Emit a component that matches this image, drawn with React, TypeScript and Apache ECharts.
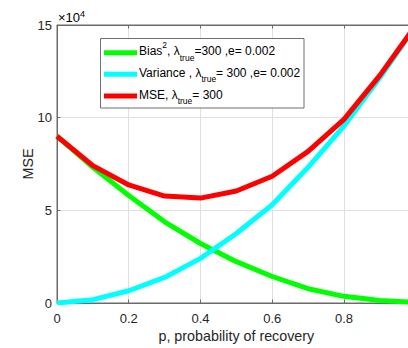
import React, { useEffect, useRef } from "react";
import * as echarts from "echarts";

const P = [0, 0.1, 0.2, 0.3, 0.4, 0.5, 0.6, 0.7, 0.8, 0.9, 1.0];
const BIAS2 = [90000, 73200, 58000, 43800, 32100, 22300, 14300, 7700, 3600, 1300, 300];
const VARIANCE = [0, 1800, 6600, 13800, 24100, 37500, 53000, 73200, 95500, 121500, 149500];
const MSE = [90000, 74100, 63700, 57700, 56600, 60400, 68400, 81800, 99100, 122800, 149800];
const X_TICKS = [0, 0.2, 0.4, 0.6, 0.8];
const Y_TICKS = [0, 50000, 100000, 150000];

const FONT = "Liberation Sans, Arial, Helvetica, sans-serif";
const TXT = "#262626";
const AXIS = "#6a6a6a";

export default function App() {
  const ref = useRef<HTMLDivElement>(null);
  useEffect(() => {
    if (!ref.current) return;
    const chart = echarts.init(ref.current, null, { renderer: "svg" });
    const pairs = (ys: number[]) => P.map((p, i) => [p, ys[i]]);
    const legendRich = {
      m: { fontSize: 12, fontFamily: FONT, color: "#000", lineHeight: 22 },
      sup: { fontSize: 8.5, fontFamily: FONT, color: "#000", lineHeight: 13, verticalAlign: "top" },
      sub: { fontSize: 8.5, fontFamily: FONT, color: "#000", lineHeight: 8, verticalAlign: "bottom" },
    };
    const rows = [
      { color: "#00ff00", y: 52.8, text: "{m|Bias}{sup|2}{m|, λ}{sub|true}{m|=300 ,e= 0.002}" },
      { color: "#00ffff", y: 74.3, text: "{m|Variance , λ}{sub|true}{m|= 300 ,e= 0.002}" },
      { color: "#ff0000", y: 96, text: "{m|MSE, λ}{sub|true}{m|= 300}" },
    ];
    const legendEls: any[] = [
      {
        type: "rect",
        shape: { x: 100.5, y: 38.5, width: 203.5, height: 69.5 },
        style: { fill: "#fff", stroke: "#6f6f6f", lineWidth: 1 },
        z: 100,
      },
    ];
    rows.forEach((r) => {
      legendEls.push({
        type: "line",
        shape: { x1: 104, y1: r.y, x2: 137, y2: r.y },
        style: { stroke: r.color, lineWidth: 5 },
        z: 101,
      });
      legendEls.push({
        type: "text",
        x: 139,
        y: r.y - 1.5,
        style: { text: r.text, rich: legendRich, verticalAlign: "middle", align: "left" },
        z: 101,
      });
    });
    const baseX = {
      type: "value",
      min: 0,
      max: 1,
      interval: 0.2,
      axisLine: { show: true, lineStyle: { color: AXIS, width: 1 } },
      axisTick: { show: true, inside: true, length: 3.5, lineStyle: { color: AXIS } },
      splitLine: { show: false },
    };
    chart.setOption({
      animation: false,
      backgroundColor: "#fff",
      grid: {
        left: 57,
        top: 25,
        width: 358.7,
        height: 280,
        show: true,
        borderColor: AXIS,
        borderWidth: 1,
        backgroundColor: "#fff",
      },
      xAxis: [
        {
          ...baseX,
          position: "bottom",
          name: "p, probability of recovery",
          nameLocation: "middle",
          nameGap: 26,
          nameMoveOverlap: false,
          nameTextStyle: { fontSize: 14.3, fontFamily: FONT, color: TXT },
          axisLabel: {
            fontSize: 13,
            fontFamily: FONT,
            color: TXT,
            margin: 9,
            formatter: (v: number) => {
              const r = Math.round(v * 10) / 10;
              return X_TICKS.includes(r) ? String(r) : "";
            },
          },
          splitLine: { show: true, lineStyle: { color: "#e0e0e0", width: 1 } },
        },
        {
          ...baseX,
          position: "top",
          axisLabel: { show: false },
        },
      ],
      yAxis: {
        type: "value",
        min: 0,
        max: Y_TICKS[Y_TICKS.length - 1],
        interval: 50000,
        name: "MSE",
        nameLocation: "middle",
        nameGap: 22.5,
        nameMoveOverlap: false,
        nameTextStyle: { fontSize: 14.3, fontFamily: FONT, color: TXT },
        axisLine: { show: true, lineStyle: { color: AXIS, width: 1 } },
        axisTick: { show: true, inside: true, length: 3.5, lineStyle: { color: AXIS } },
        axisLabel: {
          fontSize: 13,
          fontFamily: FONT,
          color: TXT,
          margin: 5,
          formatter: (v: number) => String(v / 10000),
        },
        splitLine: { show: true, lineStyle: { color: "#e0e0e0", width: 1 } },
      },
      series: [
        { name: "Bias2", type: "line", data: pairs(BIAS2), symbol: "none", lineStyle: { color: "#00ff00", width: 5 }, z: 3 },
        { name: "Variance", type: "line", data: pairs(VARIANCE), symbol: "none", lineStyle: { color: "#00ffff", width: 5 }, z: 4 },
        { name: "MSE", type: "line", data: pairs(MSE), symbol: "none", lineStyle: { color: "#ff0000", width: 5 }, z: 5 },
      ],
      graphic: [
        {
          type: "text",
          x: 58,
          y: 17,
          style: {
            text: "{a|×10}{s|4}",
            verticalAlign: "middle",
            rich: {
              a: { fontSize: 13, fontFamily: FONT, color: TXT, lineHeight: 16 },
              s: { fontSize: 9, fontFamily: FONT, color: TXT, lineHeight: 10, verticalAlign: "top" },
            },
          },
        },
        ...legendEls,
      ],
    });
    return () => chart.dispose();
  }, []);
  return (
    <div style={{ position: "fixed", left: 0, top: 0, width: 408, height: 348, overflow: "hidden", background: "#fff" }}>
      <div ref={ref} style={{ width: 430, height: 348 }} />
    </div>
  );
}
